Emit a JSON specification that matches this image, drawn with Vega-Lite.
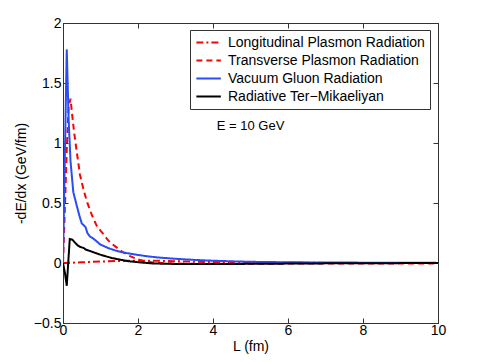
{
  "$schema": "https://vega.github.io/schema/vega-lite/v6.json",
  "width": 375,
  "height": 300,
  "autosize": {"type": "none"},
  "padding": {"left": 63, "top": 23, "right": 47, "bottom": 41},
  "background": "white",
  "config": {
    "font": "Liberation Sans",
    "view": {"stroke": "black", "strokeWidth": 1},
    "axis": {
      "grid": false,
      "domainColor": "#333333",
      "tickColor": "#333333",
      "labelColor": "black",
      "titleColor": "black",
      "labelFontSize": 14,
      "titleFontSize": 14,
      "titleFontWeight": "normal",
      "tickSize": -5,
      "labelPadding": 7,
      "labelFlush": false
    }
  },
  "datasets": {
    "curves": [
      {"L": 0, "v": 0, "s": "Longitudinal Plasmon Radiation"},
      {"L": 0.2, "v": 0.002, "s": "Longitudinal Plasmon Radiation"},
      {"L": 0.5, "v": 0.006, "s": "Longitudinal Plasmon Radiation"},
      {"L": 1, "v": 0.012, "s": "Longitudinal Plasmon Radiation"},
      {"L": 1.5, "v": 0.017, "s": "Longitudinal Plasmon Radiation"},
      {"L": 2, "v": 0.02, "s": "Longitudinal Plasmon Radiation"},
      {"L": 2.5, "v": 0.019, "s": "Longitudinal Plasmon Radiation"},
      {"L": 3, "v": 0.015, "s": "Longitudinal Plasmon Radiation"},
      {"L": 3.5, "v": 0.011, "s": "Longitudinal Plasmon Radiation"},
      {"L": 4, "v": 0.008, "s": "Longitudinal Plasmon Radiation"},
      {"L": 5, "v": 0.004, "s": "Longitudinal Plasmon Radiation"},
      {"L": 6, "v": 0.002, "s": "Longitudinal Plasmon Radiation"},
      {"L": 7, "v": 0.001, "s": "Longitudinal Plasmon Radiation"},
      {"L": 8, "v": 0, "s": "Longitudinal Plasmon Radiation"},
      {"L": 10, "v": 0, "s": "Longitudinal Plasmon Radiation"},

      {"L": 0, "v": 0, "s": "Transverse Plasmon Radiation"},
      {"L": 0.05, "v": 0.45, "s": "Transverse Plasmon Radiation"},
      {"L": 0.1, "v": 0.95, "s": "Transverse Plasmon Radiation"},
      {"L": 0.15, "v": 1.3, "s": "Transverse Plasmon Radiation"},
      {"L": 0.2, "v": 1.37, "s": "Transverse Plasmon Radiation"},
      {"L": 0.25, "v": 1.22, "s": "Transverse Plasmon Radiation"},
      {"L": 0.3, "v": 1.08, "s": "Transverse Plasmon Radiation"},
      {"L": 0.37, "v": 0.92, "s": "Transverse Plasmon Radiation"},
      {"L": 0.45, "v": 0.74, "s": "Transverse Plasmon Radiation"},
      {"L": 0.54, "v": 0.62, "s": "Transverse Plasmon Radiation"},
      {"L": 0.63, "v": 0.52, "s": "Transverse Plasmon Radiation"},
      {"L": 0.72, "v": 0.44, "s": "Transverse Plasmon Radiation"},
      {"L": 0.81, "v": 0.37, "s": "Transverse Plasmon Radiation"},
      {"L": 0.9, "v": 0.31, "s": "Transverse Plasmon Radiation"},
      {"L": 1.0, "v": 0.27, "s": "Transverse Plasmon Radiation"},
      {"L": 1.08, "v": 0.24, "s": "Transverse Plasmon Radiation"},
      {"L": 1.2, "v": 0.19, "s": "Transverse Plasmon Radiation"},
      {"L": 1.3, "v": 0.16, "s": "Transverse Plasmon Radiation"},
      {"L": 1.43, "v": 0.13, "s": "Transverse Plasmon Radiation"},
      {"L": 1.6, "v": 0.09, "s": "Transverse Plasmon Radiation"},
      {"L": 1.79, "v": 0.057, "s": "Transverse Plasmon Radiation"},
      {"L": 2.0, "v": 0.03, "s": "Transverse Plasmon Radiation"},
      {"L": 2.15, "v": 0.015, "s": "Transverse Plasmon Radiation"},
      {"L": 2.4, "v": 0.004, "s": "Transverse Plasmon Radiation"},
      {"L": 2.7, "v": -0.002, "s": "Transverse Plasmon Radiation"},
      {"L": 3, "v": -0.005, "s": "Transverse Plasmon Radiation"},
      {"L": 4, "v": -0.006, "s": "Transverse Plasmon Radiation"},
      {"L": 5, "v": -0.006, "s": "Transverse Plasmon Radiation"},
      {"L": 6, "v": -0.005, "s": "Transverse Plasmon Radiation"},
      {"L": 8, "v": -0.005, "s": "Transverse Plasmon Radiation"},
      {"L": 10, "v": -0.005, "s": "Transverse Plasmon Radiation"},

      {"L": 0, "v": 0, "s": "Vacuum Gluon Radiation"},
      {"L": 0.1, "v": 1.78, "s": "Vacuum Gluon Radiation"},
      {"L": 0.15, "v": 1.2, "s": "Vacuum Gluon Radiation"},
      {"L": 0.2, "v": 0.85, "s": "Vacuum Gluon Radiation"},
      {"L": 0.275, "v": 0.59, "s": "Vacuum Gluon Radiation"},
      {"L": 0.3, "v": 0.56, "s": "Vacuum Gluon Radiation"},
      {"L": 0.365, "v": 0.48, "s": "Vacuum Gluon Radiation"},
      {"L": 0.45, "v": 0.38, "s": "Vacuum Gluon Radiation"},
      {"L": 0.5, "v": 0.33, "s": "Vacuum Gluon Radiation"},
      {"L": 0.6, "v": 0.3, "s": "Vacuum Gluon Radiation"},
      {"L": 0.65, "v": 0.25, "s": "Vacuum Gluon Radiation"},
      {"L": 0.72, "v": 0.22, "s": "Vacuum Gluon Radiation"},
      {"L": 0.8, "v": 0.205, "s": "Vacuum Gluon Radiation"},
      {"L": 0.9, "v": 0.18, "s": "Vacuum Gluon Radiation"},
      {"L": 0.99, "v": 0.155, "s": "Vacuum Gluon Radiation"},
      {"L": 1.1, "v": 0.14, "s": "Vacuum Gluon Radiation"},
      {"L": 1.2, "v": 0.125, "s": "Vacuum Gluon Radiation"},
      {"L": 1.34, "v": 0.11, "s": "Vacuum Gluon Radiation"},
      {"L": 1.5, "v": 0.095, "s": "Vacuum Gluon Radiation"},
      {"L": 1.65, "v": 0.085, "s": "Vacuum Gluon Radiation"},
      {"L": 1.79, "v": 0.078, "s": "Vacuum Gluon Radiation"},
      {"L": 2.0, "v": 0.067, "s": "Vacuum Gluon Radiation"},
      {"L": 2.23, "v": 0.057, "s": "Vacuum Gluon Radiation"},
      {"L": 2.5, "v": 0.047, "s": "Vacuum Gluon Radiation"},
      {"L": 3, "v": 0.035, "s": "Vacuum Gluon Radiation"},
      {"L": 3.5, "v": 0.026, "s": "Vacuum Gluon Radiation"},
      {"L": 4, "v": 0.019, "s": "Vacuum Gluon Radiation"},
      {"L": 4.5, "v": 0.014, "s": "Vacuum Gluon Radiation"},
      {"L": 5, "v": 0.01, "s": "Vacuum Gluon Radiation"},
      {"L": 6, "v": 0.006, "s": "Vacuum Gluon Radiation"},
      {"L": 7, "v": 0.004, "s": "Vacuum Gluon Radiation"},
      {"L": 8, "v": 0.003, "s": "Vacuum Gluon Radiation"},
      {"L": 9, "v": 0.002, "s": "Vacuum Gluon Radiation"},
      {"L": 10, "v": 0.001, "s": "Vacuum Gluon Radiation"},

      {"L": 0, "v": 0, "s": "Radiative Ter−Mikaeliyan"},
      {"L": 0.05, "v": -0.08, "s": "Radiative Ter−Mikaeliyan"},
      {"L": 0.1, "v": -0.19, "s": "Radiative Ter−Mikaeliyan"},
      {"L": 0.18, "v": 0.2, "s": "Radiative Ter−Mikaeliyan"},
      {"L": 0.25, "v": 0.195, "s": "Radiative Ter−Mikaeliyan"},
      {"L": 0.32, "v": 0.17, "s": "Radiative Ter−Mikaeliyan"},
      {"L": 0.38, "v": 0.15, "s": "Radiative Ter−Mikaeliyan"},
      {"L": 0.45, "v": 0.135, "s": "Radiative Ter−Mikaeliyan"},
      {"L": 0.55, "v": 0.125, "s": "Radiative Ter−Mikaeliyan"},
      {"L": 0.62, "v": 0.11, "s": "Radiative Ter−Mikaeliyan"},
      {"L": 0.72, "v": 0.1, "s": "Radiative Ter−Mikaeliyan"},
      {"L": 0.85, "v": 0.085, "s": "Radiative Ter−Mikaeliyan"},
      {"L": 0.99, "v": 0.07, "s": "Radiative Ter−Mikaeliyan"},
      {"L": 1.15, "v": 0.055, "s": "Radiative Ter−Mikaeliyan"},
      {"L": 1.3, "v": 0.042, "s": "Radiative Ter−Mikaeliyan"},
      {"L": 1.52, "v": 0.028, "s": "Radiative Ter−Mikaeliyan"},
      {"L": 1.75, "v": 0.015, "s": "Radiative Ter−Mikaeliyan"},
      {"L": 2.05, "v": 0.005, "s": "Radiative Ter−Mikaeliyan"},
      {"L": 2.4, "v": -0.004, "s": "Radiative Ter−Mikaeliyan"},
      {"L": 3, "v": -0.008, "s": "Radiative Ter−Mikaeliyan"},
      {"L": 3.5, "v": -0.009, "s": "Radiative Ter−Mikaeliyan"},
      {"L": 4, "v": -0.009, "s": "Radiative Ter−Mikaeliyan"},
      {"L": 5, "v": -0.007, "s": "Radiative Ter−Mikaeliyan"},
      {"L": 6, "v": -0.005, "s": "Radiative Ter−Mikaeliyan"},
      {"L": 7, "v": -0.003, "s": "Radiative Ter−Mikaeliyan"},
      {"L": 8, "v": -0.002, "s": "Radiative Ter−Mikaeliyan"},
      {"L": 9, "v": -0.001, "s": "Radiative Ter−Mikaeliyan"},
      {"L": 10, "v": 0, "s": "Radiative Ter−Mikaeliyan"}
    ],
    "note": [
      {"L": 4.1, "v": 1.14, "label": "E = 10 GeV"}
    ]
  },
  "layer": [
    {
      "data": {"name": "curves"},
      "mark": {"type": "line", "strokeWidth": 2, "clip": true},
      "encoding": {
        "x": {
          "field": "L", "type": "quantitative",
          "scale": {"domain": [0, 10], "nice": false},
          "axis": {"orient": "bottom", "values": [0, 2, 4, 6, 8, 10], "title": "L (fm)", "titlePadding": 2, "labelPadding": 5}
        },
        "y": {
          "field": "v", "type": "quantitative",
          "scale": {"domain": [-0.5, 2], "nice": false, "zero": false},
          "axis": {"orient": "left", "values": [-0.5, 0, 0.5, 1, 1.5, 2], "format": "~g", "title": "-dE/dx (GeV/fm)", "titlePadding": 5}
        },
        "color": {
          "field": "s", "type": "nominal",
          "scale": {
            "domain": ["Longitudinal Plasmon Radiation", "Transverse Plasmon Radiation", "Vacuum Gluon Radiation", "Radiative Ter−Mikaeliyan"],
            "range": ["#ff0000", "#ff0000", "#2b4cf5", "#000000"]
          },
          "legend": {
            "title": null,
            "orient": "none",
            "legendX": 127,
            "legendY": 7,
            "strokeColor": "#333333",
            "fillColor": "white",
            "padding": 5,
            "symbolType": "M-1,0H3",
            "symbolSize": 150,
            "symbolStrokeWidth": 2,
            "labelFontSize": 14,
            "labelColor": "black",
            "labelLimit": 400,
            "rowPadding": 3,
            "labelOffset": 18
          }
        },
        "strokeDash": {
          "field": "s", "type": "nominal",
          "scale": {
            "domain": ["Longitudinal Plasmon Radiation", "Transverse Plasmon Radiation", "Vacuum Gluon Radiation", "Radiative Ter−Mikaeliyan"],
            "range": [[7, 3, 2, 3], [6, 4], [1, 0], [1, 0]]
          },
          "legend": {
            "title": null,
            "orient": "none",
            "legendX": 127,
            "legendY": 7,
            "strokeColor": "#333333",
            "fillColor": "white",
            "padding": 5,
            "symbolType": "M-1,0H3",
            "symbolSize": 150,
            "symbolStrokeWidth": 2,
            "labelFontSize": 14,
            "labelColor": "black",
            "labelLimit": 400,
            "rowPadding": 3,
            "labelOffset": 18
          }
        }
      }
    },
    {
      "data": {"name": "note"},
      "mark": {"type": "text", "align": "left", "baseline": "middle", "fontSize": 13, "color": "black"},
      "encoding": {
        "x": {"field": "L", "type": "quantitative", "scale": {"domain": [0, 10], "nice": false}, "axis": {"orient": "top", "values": [0, 2, 4, 6, 8, 10], "labels": false, "title": null}},
        "y": {"field": "v", "type": "quantitative", "scale": {"domain": [-0.5, 2], "nice": false, "zero": false}, "axis": {"orient": "right", "values": [-0.5, 0, 0.5, 1, 1.5, 2], "labels": false, "title": null}},
        "text": {"field": "label"}
      }
    }
  ],
  "resolve": {"axis": {"x": "independent", "y": "independent"}}
}
